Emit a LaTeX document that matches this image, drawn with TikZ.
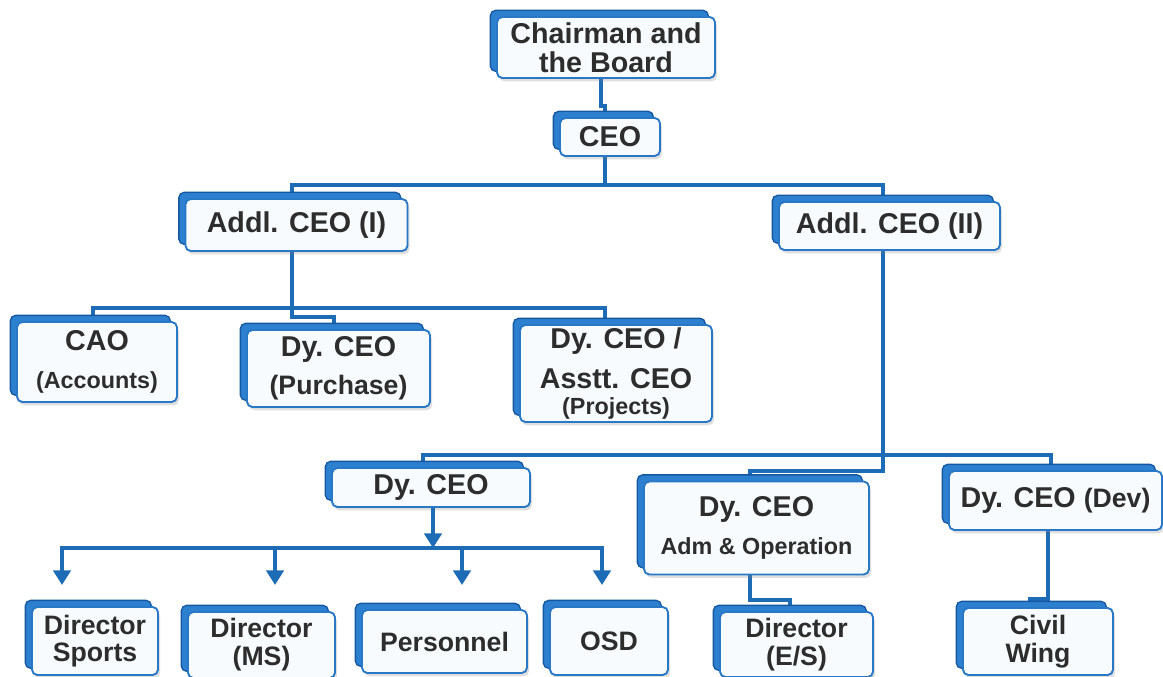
\documentclass[tikz,border=0pt]{standalone}
\usepackage{fontspec}
\setmainfont{Liberation Sans}
\usetikzlibrary{shadows,calc,arrows.meta,backgrounds}
\definecolor{lineblue}{RGB}{30,108,181}
\definecolor{backblue}{RGB}{45,128,208}
\definecolor{backedge}{RGB}{22,88,160}
\definecolor{frontedge}{RGB}{40,120,198}
\definecolor{frontfill}{RGB}{248,251,254}
\definecolor{txt}{RGB}{45,45,45}
\newcommand\fbig{\fontsize{21.5}{22.5}\selectfont}
\newcommand\fmid{\fontsize{20}{21}\selectfont}
\newcommand\fsml{\fontsize{17.5}{18.5}\selectfont}
\tikzset{
  box/.style={draw=frontedge, line width=1.4pt, fill=frontfill, rounded corners=4pt,
    inner sep=0pt, align=center, text=txt, font=\bfseries\fbig,
    drop shadow={shadow xshift=1.5pt,shadow yshift=-2.5pt,opacity=0.25},
    copy shadow={shadow xshift=-5pt,shadow yshift=5pt,fill=backblue,draw=backedge,line width=1pt}},
  sz/.style 2 args={minimum width=#1*0.75pt, minimum height=#2*0.75pt},
  conn/.style={draw=lineblue, line width=3pt},
  arr/.style={conn, -{Triangle[width=13pt,length=11pt]}},
}
\begin{document}
\begin{tikzpicture}[x=0.75pt,y=-0.75pt]
\useasboundingbox (0,0) rectangle (1163,677);
% level 0-1
\node[box,sz={218}{61}] (chair) at (606,47.5) {Chairman and\\[-1pt]the Board};
\node[box,sz={100}{38}] (ceo) at (610,137) {CEO};
% level 2
\node[box,sz={222}{52}] (addl1) at (296.5,225) {Addl. CEO (I)};
\node[box,sz={221}{48}] (addl2) at (889.5,226) {Addl. CEO (II)};
% level 3 left
\node[box,sz={160}{80}] (cao) at (97,362) {CAO\\[6pt]{\fsml (Accounts)}};
\node[box,sz={183}{77}] (purch) at (338.5,368.5) {Dy. CEO\\[6pt]{\fmid (Purchase)}};
\node[box,sz={192}{97}] (proj) at (616,373.5) {Dy. CEO /\\[8pt]Asstt. CEO\\[-3pt]{\fsml (Projects)}};
% level 3 right
\node[box,sz={198}{39}] (dyl) at (431,487.5) {Dy. CEO};
\node[box,sz={225}{93}] (adm) at (756.5,528) {Dy. CEO\\[6pt]{\fsml Adm \& Operation}};
\node[box,sz={213}{59}] (dev) at (1055.5,500.5) {Dy. CEO {\fmid (Dev)}};
% level 4
\node[box,sz={126}{68},font=\bfseries\fmid] (sports) at (95,641) {Director\\[-1pt]Sports};
\node[box,sz={147}{66},font=\bfseries\fmid] (ms) at (261.5,645) {Director\\[0pt](MS)};
\node[box,sz={165}{63},font=\bfseries\fmid] (pers) at (444.5,641.5) {Personnel};
\node[box,sz={118}{68},font=\bfseries\fmid] (osd) at (609,641) {OSD};
\node[box,sz={153}{65},font=\bfseries\fmid] (es) at (796.5,644.5) {Director\\[0pt](E/S)};
\node[box,sz={150}{67},font=\bfseries\fmid] (civil) at (1038,641.5) {Civil\\[0pt]Wing};
% bus coordinates
\coordinate (bus1) at (605,185);
\coordinate (bus2) at (292,308);
\coordinate (bus3) at (883,455);
\coordinate (bus4) at (433,548);
\coordinate (t1) at (62,585);
\coordinate (t2) at (275,585);
\coordinate (t3) at (462,585);
\coordinate (t4) at (602,585);
\begin{scope}[on background layer]
  \draw[conn] ($(chair.south)+(-5,0)$) -- ++(0,27) -| ($(ceo.north)+(-5,0)$);
  \draw[conn] ($(ceo.south)+(-5,0)$) -- (bus1);
  \draw[conn] ($(addl1.north)+(-4.5,0)$) |- (bus1) -| ($(addl2.north)+(-6.5,0)$);
  \draw[conn] ($(addl1.south)+(-4.5,0)$) -- (bus2);
  \draw[conn] ($(cao.north)+(-4,0)$) |- (bus2) -| ($(proj.north)+(-11,0)$);
  \draw[conn] (bus2) -- ++(0,9) -| ($(purch.north)+(-4.5,0)$);
  \draw[conn] ($(addl2.south)+(-6.5,0)$) -- (bus3);
  \draw[conn] ($(dyl.north)+(-8,0)$) |- (bus3) -| ($(dev.north)+(-4.5,0)$);
  \draw[conn] (bus3) -- ++(0,16) -| ($(adm.north)+(-6.5,0)$);
  \draw[conn] ($(adm.south)+(-6.5,0)$) -- ++(0,25) -| ($(es.north)+(-6.5,0)$);
  \draw[conn] ($(dev.south)+(-7.5,0)$) -- ++(0,68) -| ($(civil.north)+(-8,0)$);
\end{scope}
\draw[arr] ($(dyl.south)+(2,0)$) -- (bus4);
\draw[arr] (bus4) -| (t1);
\draw[arr] (bus4) -| (t4);
\draw[arr] (bus4 -| t2) -- (t2);
\draw[arr] (bus4 -| t3) -- (t3);
\end{tikzpicture}
\end{document}
